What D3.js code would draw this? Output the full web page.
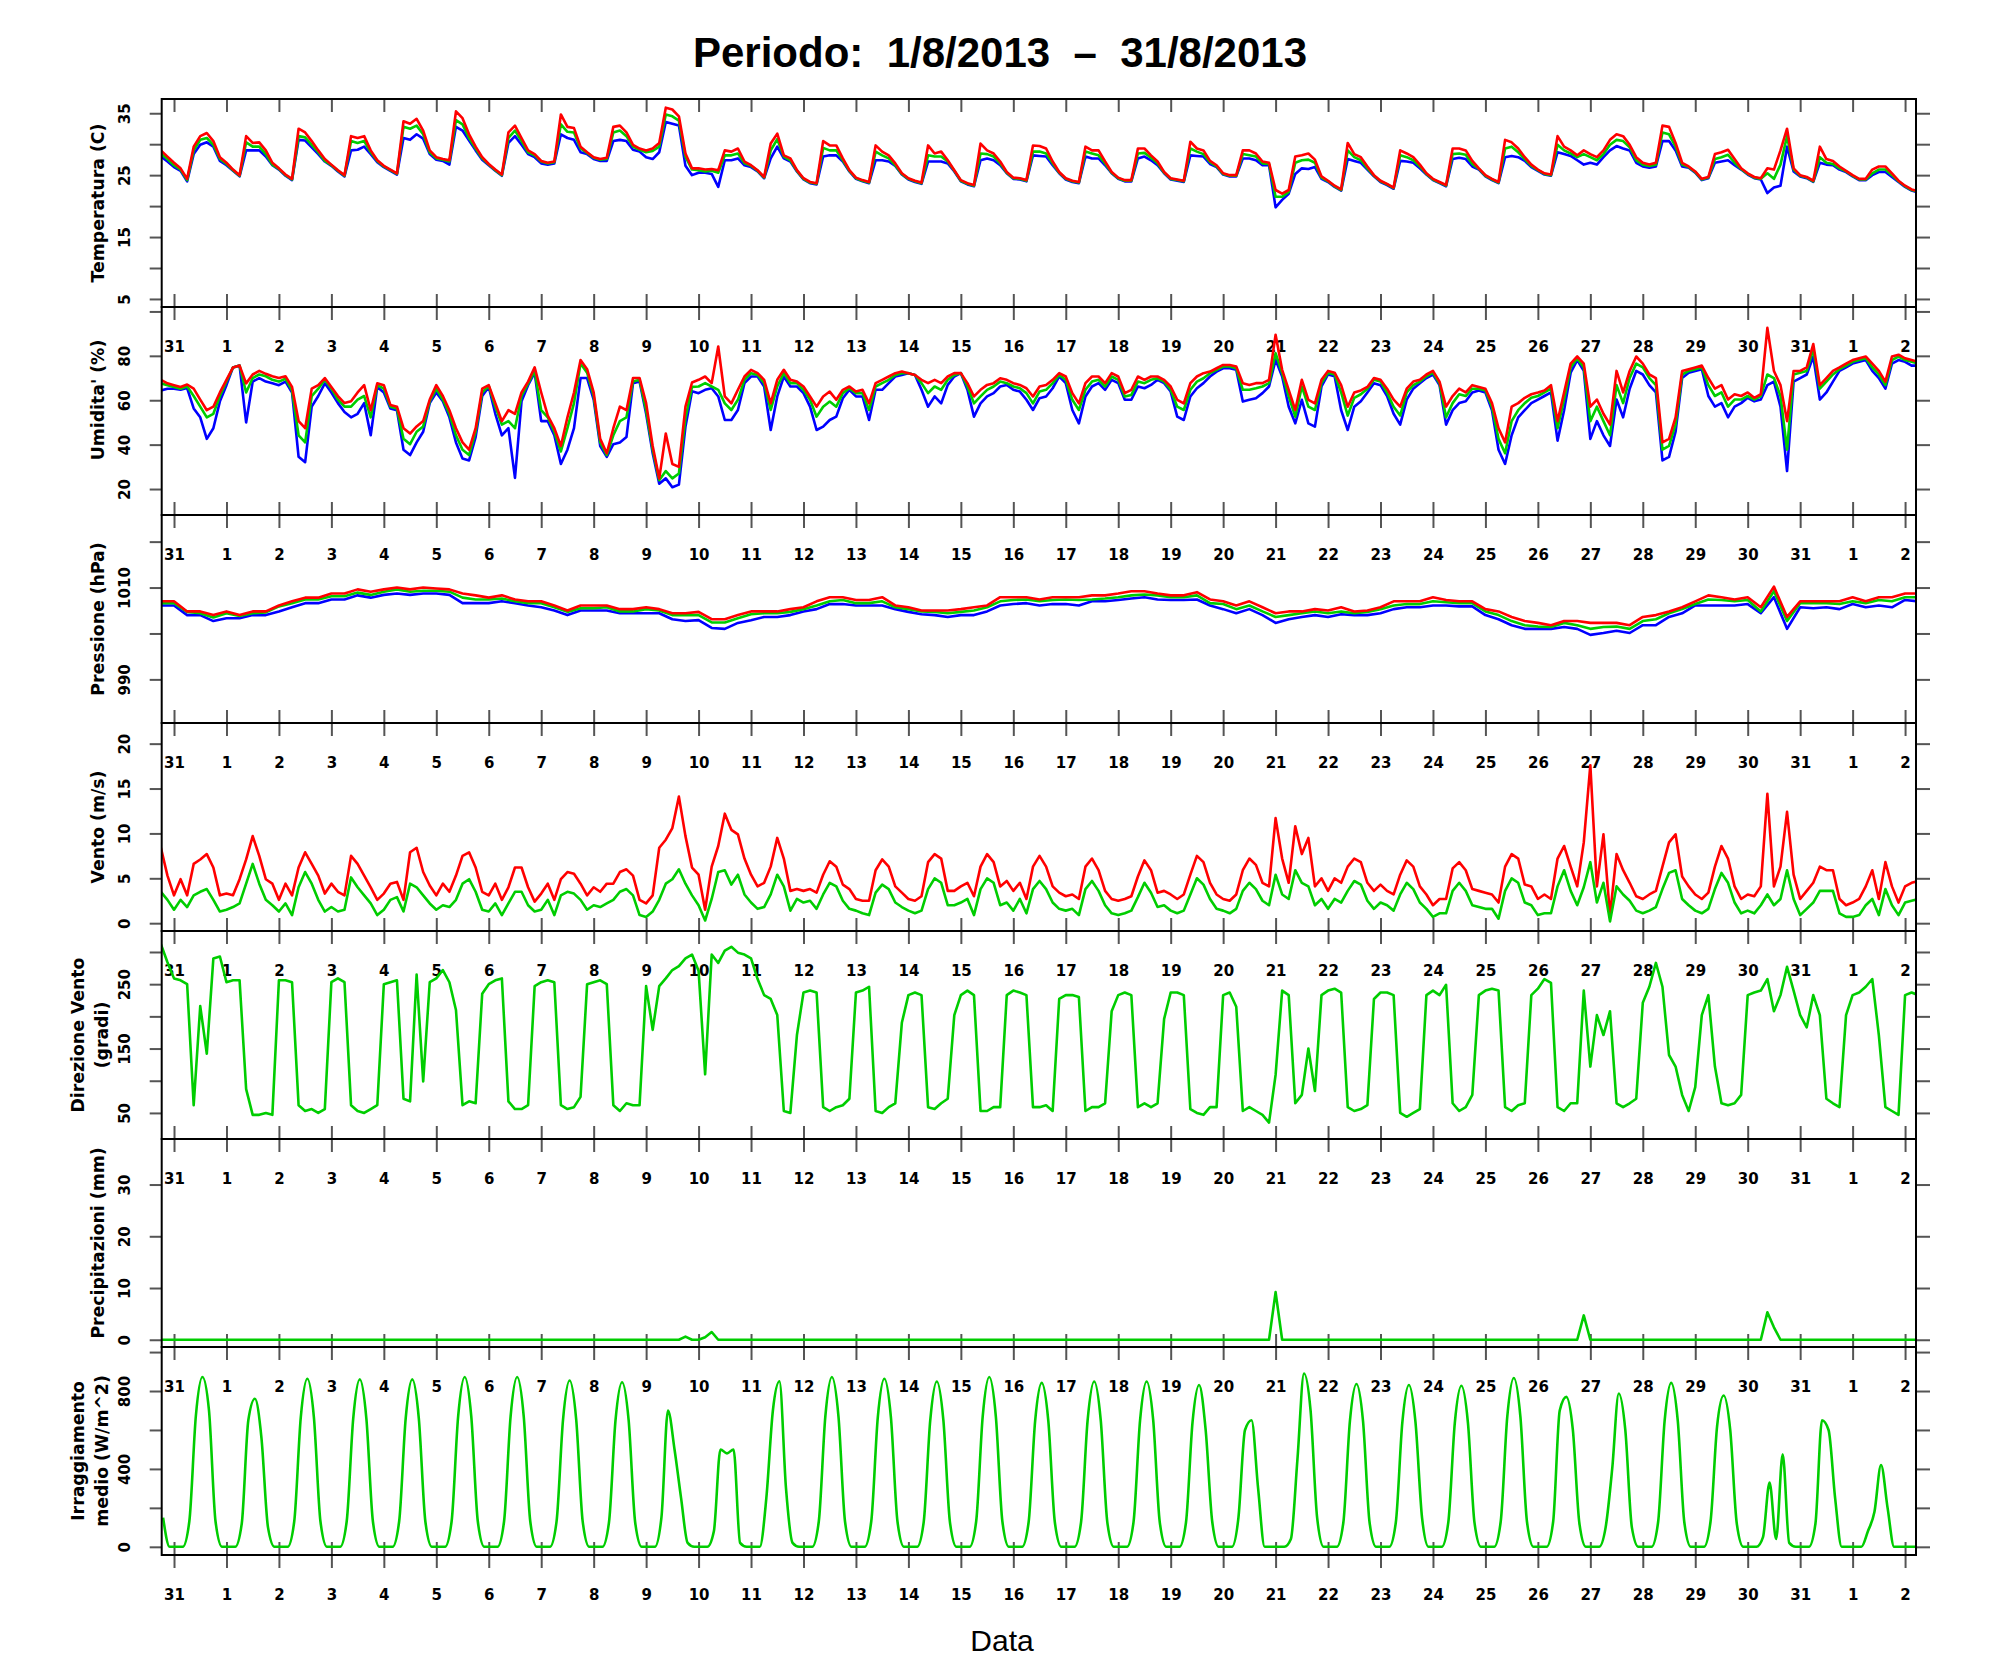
<!DOCTYPE html>
<html><head><meta charset="utf-8">
<script src="https://cdn.jsdelivr.net/npm/d3@7"></script>
<style>
body{margin:0;background:#fff}
</style>
</head><body>
<svg id="c" width="1991" height="1680"></svg>
<script>
// ---------------- DATA ----------------
// 3-hourly samples starting 30/7 18:00 (Temperature, Humidity, Wind, Direction, Rain)
const tMax = [
 29.0, 28.0,
 27.0, 26.1, 24.4, 29.6, 31.3, 31.8, 30.5, 27.9,
 27.0, 25.9, 25.0, 31.3, 30.2, 30.3, 29.0, 27.0,
 26.1, 25.1, 24.4, 32.5, 31.9, 30.5, 29.0, 27.6,
 26.7, 25.8, 25.0, 31.3, 31.0, 31.3, 29.0, 27.4,
 26.5, 25.9, 25.3, 33.7, 33.3, 34.1, 32.2, 29.0,
 27.9, 27.6, 27.4, 35.3, 34.2, 31.6, 29.6, 27.9,
 26.8, 25.9, 25.1, 31.9, 33.0, 31.0, 29.0, 28.4,
 27.3, 27.0, 27.2, 34.8, 32.8, 32.6, 29.6, 28.7,
 27.9, 27.6, 27.8, 32.8, 33.0, 31.9, 29.9, 29.3,
 29.0, 29.3, 30.2, 35.9, 35.6, 34.5, 28.5, 26.1,
 26.1, 25.9, 26.0, 25.8, 29.0, 28.8, 29.3, 27.2,
 26.6, 25.8, 24.7, 30.1, 31.7, 28.2, 27.7, 25.8,
 24.5, 23.9, 23.7, 30.5, 29.8, 29.8, 27.7, 25.8,
 24.6, 24.2, 23.9, 29.8, 28.8, 28.2, 26.9, 25.3,
 24.5, 24.1, 23.8, 29.8, 28.5, 28.8, 27.4, 25.8,
 24.2, 23.7, 23.4, 30.1, 29.0, 28.5, 27.2, 25.5,
 24.6, 24.5, 24.2, 29.8, 29.7, 29.3, 27.2, 25.5,
 24.5, 24.1, 23.9, 29.6, 29.0, 29.0, 27.2, 25.5,
 24.6, 24.2, 24.2, 29.3, 29.3, 28.2, 27.2, 25.5,
 24.5, 24.3, 24.1, 30.4, 29.3, 29.0, 27.3, 26.6,
 25.3, 25.0, 25.0, 29.0, 29.0, 28.5, 27.2, 27.0,
 22.6, 22.0, 22.6, 28.0, 28.2, 28.5, 27.5, 24.8,
 24.1, 23.3, 22.7, 30.2, 28.4, 27.9, 26.4, 25.0,
 24.1, 23.6, 23.0, 29.0, 28.5, 27.9, 26.7, 25.3,
 24.4, 23.9, 23.4, 29.3, 29.3, 29.0, 27.3, 26.1,
 25.0, 24.4, 23.9, 30.7, 30.3, 29.3, 27.9, 26.7,
 25.9, 25.3, 25.1, 31.3, 29.6, 29.0, 28.2, 29.0,
 28.4, 27.9, 29.0, 30.7, 31.6, 31.3, 29.9, 27.9,
 27.0, 26.7, 27.0, 33.0, 32.8, 30.2, 27.0, 26.4,
 25.6, 24.4, 24.7, 28.4, 28.7, 29.1, 27.6, 26.1,
 25.3, 24.7, 24.5, 26.1, 25.9, 29.0, 32.5, 26.1,
 25.0, 24.7, 24.1, 29.6, 27.6, 27.3, 26.4, 25.7,
 25.0, 24.4, 24.4, 25.9, 26.4, 26.4, 25.3, 24.1,
 23.3, 22.7, 22.4
];
const tMean = [
 28.5, 27.6,
 26.6, 25.9, 24.2, 29.0, 30.7, 31.0, 29.9, 27.6,
 26.8, 25.8, 24.9, 30.3, 29.6, 29.6, 28.4, 26.7,
 26.0, 25.0, 24.3, 31.3, 31.1, 29.9, 28.7, 27.3,
 26.6, 25.7, 24.9, 30.5, 30.2, 30.5, 28.7, 27.3,
 26.4, 25.8, 25.2, 32.8, 32.5, 33.0, 31.6, 28.7,
 27.7, 27.5, 27.2, 33.9, 33.2, 31.0, 29.3, 27.7,
 26.7, 25.8, 25.0, 31.0, 32.2, 30.5, 28.7, 28.2,
 27.2, 26.9, 27.1, 33.2, 32.0, 31.9, 29.3, 28.6,
 27.8, 27.5, 27.6, 31.9, 32.2, 31.3, 29.6, 29.1,
 28.7, 28.9, 29.6, 34.8, 34.5, 33.8, 28.0, 25.9,
 25.8, 25.6, 25.7, 25.4, 28.2, 28.2, 28.5, 26.9,
 26.5, 25.7, 24.6, 29.0, 30.8, 28.0, 27.4, 25.7,
 24.4, 23.8, 23.6, 29.4, 29.0, 29.0, 27.4, 25.7,
 24.5, 24.1, 23.8, 28.8, 28.2, 27.7, 26.6, 25.2,
 24.4, 24.0, 23.7, 28.2, 28.0, 28.0, 27.2, 25.7,
 24.1, 23.6, 23.3, 28.5, 28.4, 28.0, 26.9, 25.4,
 24.5, 24.4, 24.1, 28.8, 28.8, 28.5, 26.9, 25.4,
 24.4, 24.0, 23.8, 28.8, 28.5, 28.2, 26.9, 25.4,
 24.5, 24.1, 24.1, 28.5, 28.6, 27.8, 26.9, 25.4,
 24.4, 24.2, 24.0, 29.3, 28.8, 28.4, 27.1, 26.4,
 25.2, 24.9, 24.9, 28.4, 28.2, 28.0, 26.9, 26.8,
 21.5, 21.5, 22.3, 27.0, 27.4, 27.5, 27.0, 24.6,
 24.0, 23.2, 22.6, 29.0, 27.9, 27.4, 26.1, 24.9,
 24.0, 23.5, 22.9, 28.2, 27.9, 27.4, 26.4, 25.2,
 24.3, 23.8, 23.3, 28.4, 28.5, 28.3, 26.8, 26.0,
 24.9, 24.3, 23.8, 29.3, 29.6, 28.7, 27.6, 26.5,
 25.8, 25.2, 25.0, 29.9, 29.0, 28.5, 27.9, 28.4,
 27.9, 27.4, 28.4, 29.9, 30.7, 30.5, 29.5, 27.4,
 26.7, 26.5, 26.7, 31.9, 31.6, 29.6, 26.7, 26.3,
 25.5, 24.3, 24.6, 27.6, 27.9, 28.3, 27.0, 26.0,
 25.2, 24.6, 24.4, 25.3, 24.4, 26.7, 31.3, 25.9,
 24.9, 24.6, 24.0, 27.9, 27.0, 26.8, 26.1, 25.6,
 24.9, 24.3, 24.3, 25.3, 25.9, 25.9, 25.0, 24.0,
 23.2, 22.6, 22.3
];
const tMin = [
 28.0, 27.2,
 26.3, 25.7, 24.0, 28.4, 29.9, 30.3, 29.6, 27.3,
 26.6, 25.7, 24.8, 29.0, 29.0, 29.0, 28.0, 26.6,
 25.9, 24.9, 24.2, 30.7, 30.6, 29.5, 28.4, 27.2,
 26.5, 25.6, 24.8, 29.0, 29.1, 29.6, 28.4, 27.1,
 26.3, 25.7, 25.1, 31.0, 30.7, 31.6, 30.9, 28.4,
 27.5, 27.3, 26.7, 32.8, 32.2, 30.6, 29.0, 27.5,
 26.6, 25.7, 24.9, 30.2, 31.3, 29.9, 28.4, 27.9,
 26.9, 26.7, 26.9, 31.6, 31.0, 30.7, 28.7, 28.4,
 27.6, 27.3, 27.3, 30.5, 30.7, 30.5, 29.1, 28.8,
 27.9, 27.6, 28.7, 33.6, 33.3, 33.0, 26.5, 25.0,
 25.4, 25.4, 25.2, 23.1, 27.4, 27.4, 27.7, 26.6,
 26.3, 25.6, 24.5, 27.7, 29.6, 27.7, 27.2, 25.6,
 24.3, 23.7, 23.5, 28.0, 28.2, 28.2, 27.2, 25.6,
 24.4, 24.0, 23.7, 27.4, 27.4, 27.2, 26.5, 25.1,
 24.3, 23.9, 23.6, 27.2, 27.2, 27.2, 26.9, 25.6,
 24.0, 23.5, 23.2, 27.4, 27.7, 27.4, 26.6, 25.3,
 24.4, 24.3, 24.0, 28.2, 28.1, 28.0, 26.6, 25.3,
 24.3, 23.9, 23.7, 28.0, 27.7, 27.7, 26.6, 25.3,
 24.4, 24.0, 24.0, 27.7, 28.0, 27.4, 26.6, 25.3,
 24.3, 24.1, 23.9, 28.2, 28.1, 28.0, 26.8, 26.3,
 25.1, 24.8, 24.8, 27.7, 27.7, 27.4, 26.6, 26.6,
 19.8, 21.0, 22.0, 25.2, 26.1, 26.0, 26.3, 24.4,
 23.9, 23.1, 22.5, 27.6, 27.3, 27.0, 25.9, 24.8,
 23.9, 23.4, 22.8, 27.3, 27.2, 27.0, 26.1, 25.1,
 24.2, 23.7, 23.2, 27.6, 27.8, 27.6, 26.4, 25.9,
 24.8, 24.2, 23.7, 27.9, 28.1, 27.9, 27.3, 26.3,
 25.7, 25.1, 24.9, 28.7, 28.4, 28.1, 27.4, 26.7,
 27.0, 26.7, 27.9, 29.0, 29.7, 29.3, 29.0, 27.0,
 26.4, 26.2, 26.4, 30.5, 30.5, 29.0, 26.4, 26.2,
 25.4, 24.2, 24.5, 27.0, 27.2, 27.4, 26.6, 25.9,
 25.1, 24.5, 24.3, 22.1, 23.0, 23.3, 29.6, 25.6,
 24.8, 24.5, 23.9, 27.0, 26.7, 26.6, 25.9, 25.5,
 24.8, 24.2, 24.2, 25.0, 25.5, 25.5, 24.7, 23.9,
 23.1, 22.5, 22.2
];
const hMax = [
 69.2, 67.6,
 66.8, 66.0, 67.1, 65.2, 60.3, 55.5, 57.1, 63.5,
 69.2, 74.8, 75.6, 67.6, 71.6, 73.2, 71.9, 70.8,
 70.0, 70.8, 66.0, 50.6, 47.4, 65.2, 66.8, 70.0,
 66.0, 61.9, 58.7, 59.5, 63.5, 66.8, 55.5, 67.6,
 66.8, 57.9, 57.1, 47.4, 45.0, 48.2, 50.6, 60.3,
 66.8, 61.9, 55.5, 47.4, 41.0, 37.7, 47.4, 65.2,
 66.8, 58.7, 50.6, 55.5, 53.9, 63.5, 68.4, 74.8,
 63.5, 53.1, 47.4, 39.4, 52.3, 63.5, 78.1, 74.0,
 63.5, 42.6, 36.1, 47.4, 57.1, 55.5, 70.0, 70.0,
 58.7, 39.4, 24.8, 45.0, 31.3, 30.0, 57.1, 68.0,
 69.2, 70.7, 67.7, 84.2, 61.7, 58.6, 64.7, 70.7,
 73.7, 72.2, 69.2, 58.6, 69.2, 73.7, 69.2, 68.4,
 66.2, 61.7, 57.1, 61.7, 63.9, 60.2, 64.7, 66.2,
 63.9, 64.7, 58.6, 67.7, 69.2, 70.7, 72.2, 72.9,
 72.2, 71.4, 69.2, 67.7, 69.2, 67.7, 70.7, 72.2,
 72.2, 67.7, 61.7, 64.7, 66.9, 67.7, 69.9, 69.2,
 67.7, 66.9, 65.4, 61.7, 66.2, 66.9, 69.2, 72.2,
 70.7, 63.2, 58.6, 67.7, 70.7, 70.7, 67.7, 72.2,
 70.7, 63.2, 64.7, 70.7, 69.2, 70.7, 70.7, 69.2,
 66.2, 60.2, 58.6, 67.7, 70.7, 72.2, 72.9, 74.4,
 75.9, 75.9, 75.2, 67.7, 66.9, 67.7, 67.7, 69.2,
 89.5, 73.7, 64.7, 55.6, 69.2, 60.2, 58.6, 69.2,
 73.2, 72.4, 66.8, 57.1, 63.5, 64.4, 66.0, 70.0,
 69.2, 65.2, 60.3, 57.1, 65.2, 68.4, 69.2, 71.6,
 73.2, 68.4, 57.1, 61.9, 65.2, 63.5, 66.8, 66.0,
 65.2, 58.7, 47.4, 41.0, 57.1, 58.7, 61.1, 62.7,
 63.5, 64.4, 66.8, 50.6, 63.5, 76.5, 79.7, 76.5,
 57.1, 60.3, 53.9, 49.0, 73.2, 63.5, 73.2, 79.7,
 76.5, 71.6, 70.0, 41.0, 42.6, 52.3, 73.2, 74.0,
 74.8, 75.6, 70.0, 65.2, 66.8, 60.3, 62.7, 61.9,
 63.5, 61.1, 62.7, 92.6, 73.2, 66.8, 50.6, 73.2,
 73.2, 74.8, 85.3, 66.8, 70.0, 73.2, 74.8, 76.5,
 78.1, 78.9, 79.7, 76.5, 73.2, 68.4, 79.7, 80.5,
 78.9, 78.1, 77.3
];
const hMean = [
 67.6, 66.8,
 66.0, 65.2, 66.3, 61.9, 57.1, 52.3, 53.9, 61.9,
 68.4, 74.8, 75.6, 63.5, 70.0, 71.6, 70.8, 69.2,
 68.4, 69.7, 64.4, 44.2, 41.0, 61.9, 65.2, 69.2,
 65.2, 60.3, 57.1, 57.1, 60.3, 61.9, 52.3, 66.8,
 65.2, 57.1, 56.3, 42.6, 40.2, 45.8, 48.2, 59.5,
 65.2, 60.3, 53.9, 44.2, 37.7, 35.3, 45.8, 63.5,
 66.5, 57.1, 49.0, 50.6, 47.4, 61.9, 67.6, 73.2,
 55.5, 52.3, 45.8, 36.9, 47.4, 58.7, 76.5, 72.4,
 61.9, 41.0, 35.3, 44.2, 50.6, 52.3, 68.4, 69.2,
 55.5, 37.7, 24.0, 28.1, 24.8, 27.0, 52.0, 66.0,
 66.2, 67.7, 66.2, 64.7, 58.6, 55.6, 60.2, 69.2,
 72.2, 71.4, 67.7, 55.6, 66.2, 72.2, 67.7, 67.7,
 64.7, 60.2, 52.6, 57.1, 59.4, 57.1, 63.2, 65.4,
 63.2, 63.2, 55.6, 66.2, 67.7, 69.2, 71.4, 72.2,
 72.2, 71.4, 67.7, 63.2, 66.2, 64.7, 69.2, 71.4,
 72.2, 66.2, 58.6, 61.7, 64.7, 66.2, 68.4, 67.7,
 66.2, 65.4, 63.2, 58.6, 63.9, 64.7, 67.7, 71.4,
 69.2, 60.2, 55.6, 64.7, 68.4, 69.2, 66.2, 70.7,
 69.2, 61.7, 62.4, 68.4, 67.7, 69.2, 69.9, 68.4,
 64.7, 57.1, 55.6, 64.7, 68.4, 69.9, 72.2, 73.7,
 75.2, 75.2, 74.4, 64.7, 64.7, 65.4, 66.2, 67.7,
 81.2, 72.2, 61.7, 52.6, 66.2, 57.1, 55.6, 67.7,
 72.4, 71.6, 63.5, 53.1, 61.1, 62.7, 65.2, 69.2,
 68.4, 63.5, 57.1, 53.1, 63.5, 66.8, 68.4, 70.8,
 72.4, 67.6, 52.3, 58.7, 62.7, 61.9, 65.2, 65.2,
 64.4, 57.1, 42.6, 36.1, 50.6, 55.5, 58.7, 61.1,
 61.9, 63.5, 65.2, 47.4, 60.3, 74.8, 78.9, 74.8,
 50.6, 57.1, 50.6, 44.2, 66.8, 58.7, 70.0, 76.5,
 74.8, 70.0, 66.8, 37.7, 39.4, 49.0, 71.6, 73.2,
 74.0, 74.8, 66.8, 61.9, 63.5, 57.1, 60.3, 60.3,
 61.9, 60.3, 61.9, 71.6, 70.0, 61.9, 37.7, 71.6,
 72.4, 73.2, 82.9, 65.2, 68.4, 71.6, 74.0, 75.6,
 77.3, 78.1, 78.9, 74.8, 71.6, 66.8, 78.1, 79.7,
 78.1, 77.3, 76.5
];
const hMin = [
 64.4, 65.2,
 65.2, 64.7, 65.5, 56.3, 52.3, 42.6, 47.4, 59.5,
 66.8, 74.8, 75.6, 50.0, 68.4, 70.0, 68.4, 67.6,
 66.8, 68.4, 63.5, 34.5, 32.1, 57.1, 61.9, 67.6,
 63.5, 58.7, 54.7, 52.3, 53.9, 58.7, 44.2, 66.0,
 63.5, 56.3, 55.5, 37.7, 35.3, 41.0, 45.8, 58.7,
 63.5, 59.5, 52.3, 41.0, 33.7, 32.9, 43.4, 61.9,
 66.0, 53.9, 44.2, 47.4, 25.0, 59.5, 66.8, 72.4,
 50.6, 50.6, 44.2, 31.3, 37.7, 47.4, 70.0, 70.0,
 60.3, 39.4, 34.5, 40.2, 41.0, 43.4, 67.6, 68.4,
 53.9, 36.1, 22.4, 24.8, 20.8, 22.0, 48.0, 64.0,
 63.2, 64.7, 65.4, 61.7, 51.1, 51.1, 55.6, 67.7,
 70.7, 70.7, 66.2, 46.6, 61.7, 70.7, 66.2, 66.2,
 63.2, 57.1, 46.6, 48.1, 51.1, 52.6, 60.9, 64.7,
 61.7, 61.7, 51.1, 64.7, 64.7, 67.7, 70.7, 71.4,
 72.2, 71.4, 64.7, 57.1, 61.7, 58.6, 66.9, 70.7,
 72.2, 64.7, 52.6, 58.6, 61.7, 63.2, 66.2, 66.9,
 64.7, 63.9, 60.2, 55.6, 60.9, 61.7, 65.4, 70.7,
 67.7, 55.6, 49.6, 61.7, 66.2, 67.7, 64.7, 69.2,
 67.7, 60.2, 60.2, 66.2, 65.4, 66.9, 69.2, 67.7,
 63.9, 52.6, 51.1, 61.7, 65.4, 67.7, 70.7, 72.9,
 74.4, 74.4, 73.7, 59.4, 60.2, 60.9, 63.2, 66.2,
 78.2, 70.7, 57.1, 49.6, 60.2, 49.6, 48.1, 66.2,
 71.6, 70.8, 55.5, 46.6, 57.1, 59.5, 63.5, 67.6,
 66.8, 61.9, 53.9, 49.0, 60.3, 65.2, 67.6, 70.0,
 71.6, 66.8, 49.0, 55.5, 58.7, 59.5, 63.5, 64.4,
 63.5, 55.5, 37.7, 31.3, 44.2, 52.3, 55.5, 58.7,
 60.3, 61.9, 63.5, 41.8, 55.5, 72.4, 78.1, 73.2,
 42.6, 50.6, 44.2, 39.4, 60.3, 52.3, 65.2, 73.2,
 71.6, 66.8, 63.5, 32.9, 34.5, 45.8, 70.0, 72.4,
 73.2, 74.0, 61.9, 57.1, 58.7, 52.3, 57.1, 58.7,
 61.1, 59.5, 60.3, 66.8, 68.4, 57.1, 28.1, 68.4,
 70.0, 71.6, 79.7, 60.3, 63.5, 68.4, 73.2, 74.8,
 76.5, 77.3, 78.1, 73.2, 70.0, 65.2, 76.5, 78.1,
 77.3, 75.6, 75.6
];
// 6-hourly pressure samples starting 30/7 18:00
const pMax = [
 1007.0,
 1007.0, 1004.8, 1004.8, 1004.0,
 1004.8, 1004.0, 1004.8, 1004.8,
 1006.1, 1007.0, 1007.8, 1007.8,
 1008.7, 1008.7, 1009.6, 1009.1,
 1009.6, 1010.0, 1009.6, 1010.0,
 1009.8, 1009.6, 1008.7, 1008.3,
 1007.8, 1008.3, 1007.4, 1007.0,
 1007.0, 1006.1, 1005.0, 1006.1,
 1006.1, 1006.1, 1005.3, 1005.3,
 1005.7, 1005.3, 1004.4, 1004.4,
 1004.7, 1003.1, 1003.1, 1004.0,
 1004.8, 1004.8, 1004.8, 1005.3,
 1005.7, 1007.0, 1007.9, 1007.9,
 1007.3, 1007.3, 1007.9, 1006.1,
 1005.7, 1005.0, 1005.0, 1005.0,
 1005.3, 1005.7, 1006.1, 1007.9,
 1007.9, 1007.9, 1007.4, 1007.9,
 1007.9, 1007.9, 1008.3, 1008.3,
 1008.7, 1009.2, 1009.2, 1008.7,
 1008.3, 1008.3, 1009.0, 1007.4,
 1007.0, 1006.1, 1007.0, 1005.7,
 1004.4, 1004.8, 1004.8, 1005.3,
 1005.0, 1005.7, 1004.8, 1005.0,
 1005.7, 1007.0, 1007.0, 1007.0,
 1007.9, 1007.3, 1007.0, 1007.0,
 1005.3, 1004.8, 1003.6, 1002.7,
 1002.3, 1001.8, 1002.7, 1002.7,
 1002.3, 1002.3, 1002.3, 1001.8,
 1003.6, 1004.0, 1004.8, 1005.7,
 1007.0, 1008.3, 1007.9, 1007.4,
 1007.9, 1005.7, 1010.2, 1003.6,
 1007.0, 1007.0, 1007.0, 1007.0,
 1007.9, 1007.0, 1007.9, 1007.9,
 1008.7, 1008.7
];
const pMean = [
 1006.6,
 1006.6, 1004.7, 1004.4, 1003.5,
 1004.4, 1003.8, 1004.4, 1004.6,
 1005.9, 1006.6, 1007.4, 1007.4,
 1008.1, 1008.1, 1008.9, 1008.4,
 1009.1, 1009.6, 1009.1, 1009.3,
 1009.3, 1009.1, 1007.8, 1007.4,
 1007.4, 1007.6, 1007.0, 1006.6,
 1006.6, 1005.7, 1004.7, 1005.5,
 1005.5, 1005.7, 1004.8, 1004.8,
 1005.3, 1005.0, 1004.0, 1004.0,
 1004.0, 1002.4, 1002.4, 1003.3,
 1004.2, 1004.4, 1004.4, 1004.7,
 1005.3, 1006.1, 1007.0, 1007.3,
 1006.6, 1006.6, 1007.0, 1005.7,
 1005.3, 1004.8, 1004.7, 1004.4,
 1004.7, 1005.0, 1005.7, 1007.0,
 1007.3, 1007.4, 1007.0, 1007.3,
 1007.4, 1007.3, 1007.4, 1007.6,
 1007.9, 1008.3, 1008.5, 1008.3,
 1007.9, 1007.9, 1008.3, 1006.6,
 1006.4, 1005.3, 1006.1, 1004.8,
 1003.6, 1004.0, 1004.4, 1004.8,
 1004.4, 1004.8, 1004.4, 1004.7,
 1005.3, 1006.1, 1006.4, 1006.4,
 1007.0, 1006.8, 1006.6, 1006.6,
 1004.8, 1004.0, 1002.7, 1001.8,
 1001.5, 1001.4, 1002.3, 1001.8,
 1001.0, 1001.4, 1001.5, 1001.0,
 1002.7, 1003.1, 1004.4, 1005.3,
 1006.4, 1007.4, 1007.3, 1007.0,
 1007.3, 1004.8, 1009.2, 1002.7,
 1006.6, 1006.6, 1006.6, 1006.4,
 1007.0, 1006.6, 1007.3, 1007.0,
 1007.9, 1007.9
];
const pMin = [
 1006.1,
 1006.1, 1004.0, 1004.0, 1002.7,
 1003.3, 1003.3, 1004.0, 1004.0,
 1004.8, 1005.7, 1006.6, 1006.6,
 1007.4, 1007.4, 1008.3, 1007.8,
 1008.4, 1008.7, 1008.4, 1008.7,
 1008.7, 1008.4, 1006.6, 1006.6,
 1006.6, 1007.0, 1006.6, 1006.1,
 1005.7, 1005.0, 1004.0, 1005.0,
 1005.0, 1005.0, 1004.4, 1004.4,
 1004.4, 1004.4, 1003.1, 1002.7,
 1002.9, 1001.2, 1001.0, 1002.3,
 1002.9, 1003.6, 1003.6, 1004.0,
 1004.8, 1005.3, 1006.4, 1006.4,
 1006.1, 1006.1, 1006.1, 1005.3,
 1004.7, 1004.2, 1004.0, 1003.6,
 1004.0, 1004.0, 1004.8, 1006.1,
 1006.4, 1006.6, 1006.1, 1006.4,
 1006.4, 1006.1, 1007.0, 1007.0,
 1007.3, 1007.6, 1007.9, 1007.4,
 1007.3, 1007.3, 1007.4, 1006.1,
 1005.3, 1004.4, 1005.3, 1004.0,
 1002.3, 1003.1, 1003.6, 1004.0,
 1003.6, 1004.2, 1004.0, 1004.0,
 1004.4, 1005.3, 1005.7, 1005.7,
 1006.1, 1006.1, 1005.9, 1005.9,
 1004.0, 1003.1, 1001.8, 1001.0,
 1001.0, 1001.0, 1001.4, 1001.0,
 999.7, 1000.1, 1000.6, 1000.1,
 1001.8, 1001.8, 1003.6, 1004.4,
 1006.1, 1006.1, 1006.1, 1006.1,
 1006.4, 1004.4, 1007.9, 1001.0,
 1005.7, 1005.5, 1005.7, 1005.3,
 1006.4, 1005.7, 1006.1, 1005.7,
 1007.3, 1007.0
];
const windMax = [
 8.4, 5.3,
 3.1, 4.9, 3.1, 6.6, 7.1, 7.7, 6.2, 3.1,
 3.3, 3.1, 4.9, 7.1, 9.7, 7.5, 4.9, 4.4,
 2.6, 4.4, 3.1, 6.2, 7.9, 6.6, 5.3, 3.3,
 4.4, 3.5, 3.1, 7.5, 6.6, 5.3, 4.0, 2.6,
 3.3, 4.4, 4.6, 2.6, 7.9, 8.4, 5.7, 4.2,
 3.1, 4.4, 3.5, 5.3, 7.5, 7.9, 6.2, 3.5,
 3.1, 4.4, 2.6, 4.0, 6.2, 6.2, 4.0, 2.4,
 3.3, 4.4, 2.6, 4.9, 5.7, 5.5, 4.4, 3.1,
 4.0, 3.5, 4.4, 4.4, 5.7, 6.0, 5.3, 2.6,
 2.2, 3.1, 8.4, 9.3, 10.6, 14.1, 9.7, 6.2,
 5.4, 1.5, 6.3, 8.6, 12.2, 10.4, 9.9, 7.2,
 5.4, 4.1, 4.5, 6.3, 9.5, 7.2, 3.6, 3.8,
 3.6, 3.8, 3.4, 5.4, 6.9, 6.3, 4.3, 3.8,
 2.7, 2.5, 2.5, 5.9, 7.1, 6.3, 4.1, 3.4,
 2.7, 2.5, 3.0, 6.8, 7.7, 7.2, 3.6, 3.6,
 4.1, 4.5, 3.0, 6.3, 7.7, 6.8, 4.1, 4.7,
 3.6, 4.5, 2.7, 6.3, 7.5, 6.3, 4.1, 3.4,
 3.0, 3.2, 2.7, 6.3, 7.2, 5.9, 3.6, 2.7,
 2.5, 2.7, 3.0, 5.2, 7.0, 5.9, 3.4, 3.6,
 3.2, 2.7, 3.2, 5.4, 7.5, 6.8, 4.5, 3.2,
 2.7, 2.5, 3.2, 5.9, 7.2, 6.5, 4.5, 4.1,
 11.7, 7.2, 4.5, 10.8, 7.7, 9.5, 4.1, 5.0,
 3.6, 5.0, 4.5, 6.3, 7.2, 6.8, 4.5, 3.6,
 4.3, 3.6, 3.2, 5.4, 7.0, 6.3, 4.1, 3.2,
 2.0, 2.7, 2.7, 6.1, 6.8, 5.9, 3.8, 3.6,
 3.4, 3.2, 2.3, 6.3, 7.7, 7.2, 4.3, 4.1,
 2.7, 3.2, 2.7, 7.2, 8.6, 6.3, 4.1, 9.0,
 17.6, 4.1, 9.9, 0.9, 7.7, 5.9, 4.5, 3.0,
 2.7, 3.2, 3.6, 6.3, 9.0, 9.9, 5.2, 4.1,
 3.2, 2.7, 3.4, 6.3, 8.6, 7.2, 4.1, 2.7,
 3.2, 3.0, 4.1, 14.4, 4.1, 6.3, 12.4, 5.4,
 2.7, 3.6, 4.5, 6.3, 5.9, 5.9, 2.7, 2.0,
 2.3, 2.7, 4.1, 5.9, 2.7, 6.8, 4.1, 2.3,
 4.1, 4.5, 4.7
];
const windMean = [
 3.5, 2.6,
 1.5, 2.6, 1.8, 3.1, 3.5, 3.8, 2.6, 1.3,
 1.5, 1.8, 2.2, 4.4, 6.6, 4.4, 2.6, 2.0,
 1.3, 2.2, 0.9, 4.0, 5.7, 4.4, 2.6, 1.3,
 1.8, 1.3, 1.5, 5.1, 4.0, 3.1, 2.2, 0.9,
 1.5, 2.6, 2.9, 1.3, 4.4, 4.0, 3.1, 2.2,
 1.5, 2.0, 1.8, 2.6, 4.4, 4.9, 3.5, 1.5,
 1.3, 2.2, 0.9, 2.2, 3.5, 3.5, 2.0, 1.3,
 1.5, 2.6, 0.9, 3.1, 3.5, 3.3, 2.6, 1.5,
 2.0, 1.8, 2.2, 2.6, 3.5, 3.8, 3.1, 0.9,
 0.7, 1.3, 2.6, 4.4, 4.9, 6.0, 4.4, 3.1,
 2.0, 0.3, 2.7, 5.7, 5.9, 4.3, 5.4, 3.2,
 2.3, 1.6, 1.8, 3.2, 5.4, 4.1, 1.4, 2.7,
 2.3, 2.5, 1.6, 3.2, 4.5, 4.1, 2.5, 1.6,
 1.4, 1.1, 0.9, 3.4, 4.3, 3.8, 2.3, 1.8,
 1.4, 1.1, 1.4, 3.8, 5.0, 4.5, 2.0, 2.0,
 2.3, 2.7, 0.9, 3.8, 5.0, 4.5, 2.0, 2.3,
 1.4, 2.7, 1.1, 3.8, 4.7, 3.8, 2.3, 1.6,
 1.4, 1.6, 0.9, 3.8, 4.7, 3.6, 2.0, 1.1,
 0.9, 1.1, 1.4, 2.9, 4.5, 3.4, 1.8, 2.0,
 1.4, 1.1, 1.4, 3.2, 5.0, 4.3, 2.7, 1.6,
 1.4, 1.1, 1.6, 3.6, 4.5, 3.8, 2.5, 2.0,
 5.4, 3.2, 2.7, 5.9, 4.5, 4.1, 2.0, 2.7,
 1.6, 2.7, 2.3, 3.6, 4.7, 4.3, 2.5, 1.6,
 2.3, 2.0, 1.4, 3.2, 4.5, 3.8, 2.3, 1.6,
 0.7, 1.1, 1.1, 3.6, 4.5, 3.6, 2.0, 1.8,
 1.6, 1.6, 0.5, 3.6, 5.0, 4.5, 2.3, 2.0,
 0.9, 1.1, 1.1, 4.1, 5.9, 3.6, 2.0, 4.0,
 6.8, 2.3, 4.5, 0.2, 4.1, 3.2, 2.5, 1.4,
 1.1, 1.4, 1.8, 3.8, 5.6, 5.9, 2.7, 2.0,
 1.4, 1.1, 1.6, 3.8, 5.6, 4.5, 2.3, 1.1,
 1.4, 1.1, 2.0, 3.2, 2.0, 2.7, 5.9, 2.7,
 0.9, 1.6, 2.3, 3.6, 3.6, 3.6, 1.1, 0.7,
 0.7, 0.9, 2.0, 2.7, 0.9, 3.8, 2.0, 0.9,
 2.3, 2.5, 2.7
];
const windDir = [
 312, 284,
 259, 256, 250, 62, 216, 142, 290, 293,
 253, 256, 256, 87, 47, 47, 50, 47,
 256, 256, 253, 62, 53, 56, 50, 56,
 253, 259, 253, 62, 53, 50, 56, 62,
 250, 253, 256, 72, 68, 265, 99, 253,
 259, 272, 253, 210, 62, 68, 65, 235,
 250, 256, 259, 68, 56, 56, 62, 247,
 253, 256, 253, 62, 56, 59, 75, 250,
 253, 256, 250, 62, 53, 65, 62, 62,
 247, 179, 247, 259, 272, 278, 290, 296,
 271, 110, 296, 283, 302, 308, 299, 296,
 290, 258, 233, 227, 202, 53, 50, 171,
 237, 240, 237, 59, 53, 59, 62, 72,
 237, 240, 246, 53, 50, 59, 65, 190,
 233, 237, 233, 59, 56, 65, 72, 202,
 233, 240, 233, 53, 53, 59, 59, 233,
 240, 237, 233, 59, 59, 62, 53, 227,
 233, 233, 230, 53, 59, 59, 65, 208,
 233, 237, 233, 59, 65, 59, 65, 196,
 237, 237, 233, 56, 50, 47, 59, 59,
 233, 237, 215, 53, 59, 53, 47, 35,
 109, 240, 233, 65, 78, 150, 84, 233,
 240, 243, 237, 59, 53, 56, 62, 227,
 237, 237, 233, 50, 44, 50, 56, 233,
 240, 233, 249, 65, 53, 59, 78, 233,
 240, 243, 240, 59, 53, 62, 65, 233,
 243, 258, 252, 59, 53, 65, 65, 240,
 122, 202, 171, 208, 65, 59, 65, 72,
 221, 246, 283, 246, 140, 122, 78, 53,
 90, 202, 233, 122, 65, 62, 65, 78,
 233, 237, 240, 258, 208, 233, 277, 240,
 202, 183, 233, 202, 72, 65, 59, 202,
 233, 237, 246, 258, 171, 59, 53, 47,
 233, 237, 233
];
const rain = [
 0, 0,
 0, 0, 0, 0, 0, 0, 0, 0,
 0, 0, 0, 0, 0, 0, 0, 0,
 0, 0, 0, 0, 0, 0, 0, 0,
 0, 0, 0, 0, 0, 0, 0, 0,
 0, 0, 0, 0, 0, 0, 0, 0,
 0, 0, 0, 0, 0, 0, 0, 0,
 0, 0, 0, 0, 0, 0, 0, 0,
 0, 0, 0, 0, 0, 0, 0, 0,
 0, 0, 0, 0, 0, 0, 0, 0,
 0, 0, 0, 0, 0, 0, 0.6, 0,
 0, 0.5, 1.5, 0, 0, 0, 0, 0,
 0, 0, 0, 0, 0, 0, 0, 0,
 0, 0, 0, 0, 0, 0, 0, 0,
 0, 0, 0, 0, 0, 0, 0, 0,
 0, 0, 0, 0, 0, 0, 0, 0,
 0, 0, 0, 0, 0, 0, 0, 0,
 0, 0, 0, 0, 0, 0, 0, 0,
 0, 0, 0, 0, 0, 0, 0, 0,
 0, 0, 0, 0, 0, 0, 0, 0,
 0, 0, 0, 0, 0, 0, 0, 0,
 0, 0, 0, 0, 0, 0, 0, 0,
 9.2, 0, 0, 0, 0, 0, 0, 0,
 0, 0, 0, 0, 0, 0, 0, 0,
 0, 0, 0, 0, 0, 0, 0, 0,
 0, 0, 0, 0, 0, 0, 0, 0,
 0, 0, 0, 0, 0, 0, 0, 0,
 0, 0, 0, 0, 0, 0, 0, 4.7,
 0, 0, 0, 0, 0, 0, 0, 0,
 0, 0, 0, 0, 0, 0, 0, 0,
 0, 0, 0, 0, 0, 0, 0, 0,
 0, 0, 0, 5.3, 2.4, 0, 0, 0,
 0, 0, 0, 0, 0, 0, 0, 0,
 0, 0, 0, 0, 0, 0, 0, 0,
 0, 0, 0
];
// 3-hourly radiation samples starting 30/7 19:00 (01,04,07,10,13,16,19,22 h each day)
const radiation = [
 150, 0,
 0, 0, 130, 673, 872, 700, 130, 0,
 0, 0, 120, 650, 760, 560, 100, 0,
 0, 0, 130, 665, 863, 665, 130, 0,
 0, 0, 130, 660, 860, 660, 130, 0,
 0, 0, 130, 660, 860, 660, 130, 0,
 0, 0, 130, 670, 872, 670, 130, 0,
 0, 0, 130, 670, 872, 670, 130, 0,
 0, 0, 128, 655, 854, 655, 128, 0,
 0, 0, 125, 650, 845, 650, 125, 0,
 0, 0, 150, 700, 500, 250, 20, 0,
 0, 0, 80, 500, 480, 500, 20, 0,
 0, 0, 250, 700, 850, 300, 20, 0,
 0, 0, 130, 670, 872, 670, 130, 0,
 0, 0, 130, 665, 863, 665, 130, 0,
 0, 0, 127, 650, 849, 650, 127, 0,
 0, 0, 130, 670, 872, 670, 130, 0,
 0, 0, 126, 648, 842, 648, 126, 0,
 0, 0, 127, 650, 849, 650, 127, 0,
 0, 0, 127, 650, 849, 650, 127, 0,
 0, 0, 125, 640, 831, 600, 130, 0,
 0, 0, 150, 600, 650, 300, 0, 0,
 0, 0, 40, 450, 890, 700, 150, 0,
 0, 0, 125, 645, 836, 645, 125, 0,
 0, 0, 125, 640, 831, 640, 150, 0,
 0, 0, 124, 637, 827, 637, 124, 0,
 0, 0, 130, 668, 867, 668, 130, 0,
 0, 0, 130, 700, 770, 600, 120, 0,
 0, 0, 100, 400, 787, 600, 100, 0,
 0, 0, 126, 648, 842, 648, 126, 0,
 0, 0, 130, 620, 777, 600, 120, 0,
 0, 0, 50, 330, 40, 475, 20, 0,
 0, 0, 120, 650, 600, 250, 0, 0,
 0, 0, 80, 180, 420, 200, 0, 0,
 0, 0, 0
];
// axis ticks and labels
const tempTicks = [5,10,15,20,25,30,35], tempLabels = [5,15,25,35];
const humTicks = [20,40,60,80,100], humLabels = [20,40,60,80];
const presTicks = [990,1000,1010,1020], presLabels = [990,1010];
const windTicks = [0,5,10,15,20], windLabels = [0,5,10,15,20];
const dirTicks = [50,100,150,200,250,300], dirLabels = [50,150,250];
const rainTicks = [0,10,20,30], rainLabels = [0,10,20,30];
const radTicks = [0,200,400,600,800,1000], radLabels = [0,400,800];
const titleText = "Periodo:  1/8/2013  \u2013  31/8/2013";
const xTitle = "Data";

// ---------------- LAYOUT ----------------
const RED = "#ff0000", GREEN = "#00cd00", BLUE = "#0000ff";
const svg = d3.select("#c");
const X0 = 161.7, X1 = 1916, PH = 208;
const tops = [99, 307, 515, 723, 931, 1139, 1347];
const x = d3.scaleTime()
  .domain([new Date(2013,6,30,18,22), new Date(2013,8,2,5,0)])
  .range([X0, X1]);
const days = d3.timeDay.range(new Date(2013,6,31), new Date(2013,8,2,12));
const t3 = new Date(2013,6,30,18), tRad = new Date(2013,6,30,19);
const ser = (vals, t0, step) => vals.map((v,i) => [d3.timeHour.offset(t0, step*i), v]);

const panels = [
  {title:["Temperatura (C)"], dom:[3.7,37.3], ticks:tempTicks, labels:tempLabels,
   series:[[tMin,BLUE,t3,3],[tMean,GREEN,t3,3],[tMax,RED,t3,3]]},
  {title:["Umidita' (%)"], dom:[8.3,102], ticks:humTicks, labels:humLabels, tc:-11,
   series:[[hMin,BLUE,t3,3],[hMean,GREEN,t3,3],[hMax,RED,t3,3]]},
  {title:["Pressione (hPa)"], dom:[980.5,1025.8], ticks:presTicks, labels:presLabels,
   series:[[pMin,BLUE,t3,6],[pMean,GREEN,t3,6],[pMax,RED,t3,6]]},
  {title:["Vento (m/s)"], dom:[-0.87,22.3], ticks:windTicks, labels:windLabels,
   series:[[windMax,RED,t3,3],[windMean,GREEN,t3,3]]},
  {title:["Direzione Vento","(gradi)"], dom:[9.5,332.6], ticks:dirTicks, labels:dirLabels,
   series:[[windDir,GREEN,t3,3]]},
  {title:["Precipitazioni (mm)"], dom:[-1.4,38.8], ticks:rainTicks, labels:rainLabels,
   series:[[rain,GREEN,t3,3]]},
  {title:["Irraggiamento","medio (W/m^2)"], dom:[-42,1026], ticks:radTicks, labels:radLabels,
   series:[[radiation,GREEN,tRad,3,true]]}
];

const FAM = '"DejaVu Sans",sans-serif';
const FAM2 = '"Liberation Sans",Arial,Helvetica,sans-serif';
function styleAxis(g){
  g.select(".domain").remove();
  g.selectAll(".tick line").attr("stroke","#555").attr("stroke-width",2);
  g.selectAll(".tick text").attr("fill","#000").style("font-size","15px").style("font-weight","bold")
   .style("font-family",FAM);
}

// x-axis ticks at each panel boundary (drawn first so data lines overlap labels)
const bounds = tops.concat([tops[6]+PH]);
bounds.forEach((b,i) => {
  if (i > 0) {
    svg.append("g").attr("transform",`translate(0,${b})`)
      .call(d3.axisTop(x).tickValues(days).tickSize(13).tickFormat(""))
      .call(styleAxis);
  }
  svg.append("g").attr("transform",`translate(0,${b})`)
    .call(d3.axisBottom(x).tickValues(days).tickSize(13).tickPadding(21.8)
      .tickFormat(i > 0 ? d3.timeFormat("%-d") : ""))
    .call(styleAxis);
});

panels.forEach((p,i) => {
  const top = tops[i], bot = top + PH;
  const y = d3.scaleLinear().domain(p.dom).range([bot, top]);
  const gl = svg.append("g").attr("transform",`translate(${X0},0)`)
    .call(d3.axisLeft(y).tickValues(p.ticks).tickSize(12)
      .tickFormat(d => p.labels.includes(d) ? d : ""))
    .call(styleAxis);
  gl.selectAll(".tick text").attr("x",0).attr("dy",0).attr("text-anchor","middle")
    .attr("transform","translate(-31.5,0) rotate(-90)");
  svg.append("g").attr("transform",`translate(${X1},0)`)
    .call(d3.axisRight(y).tickValues(p.ticks).tickSize(14).tickFormat(""))
    .call(styleAxis);
  const ty = top + PH/2 + (p.tc || 0);
  const xs = p.title.length === 1 ? [104] : [84, 107.5];
  p.title.forEach((t,k) => {
    svg.append("text").attr("transform",`translate(${xs[k]},${ty}) rotate(-90)`)
      .attr("text-anchor","middle").style("font-size","17.3px").style("font-weight","bold")
      .style("font-family",FAM).text(t);
  });
  const cid = "clip"+i;
  svg.append("clipPath").attr("id",cid).append("rect")
    .attr("x",X0).attr("y",top).attr("width",X1-X0).attr("height",PH);
  const gd = svg.append("g").attr("clip-path",`url(#${cid})`);
  p.series.forEach(([vals,col,t0,step,smooth]) => {
    const line = d3.line().x(d => x(d[0])).y(d => y(d[1]))
      .curve(smooth ? d3.curveMonotoneX : d3.curveLinear);
    gd.append("path").datum(ser(vals,t0,step)).attr("d",line)
      .attr("fill","none").attr("stroke",col).attr("stroke-width",2.6)
      .attr("stroke-linejoin","round");
  });
  svg.append("rect").attr("x",X0).attr("y",top).attr("width",X1-X0).attr("height",PH)
    .attr("fill","none").attr("stroke","#000").attr("stroke-width",2);
});

svg.append("text").attr("x",1000).attr("y",66.5).attr("text-anchor","middle")
  .style("font-family",FAM2).style("font-size","42px").style("font-weight","bold")
  .style("white-space","pre").text(titleText);
svg.append("text").attr("x",1002).attr("y",1651).attr("text-anchor","middle")
  .style("font-family",FAM2).style("font-size","30px").text(xTitle);
</script>
</body></html>
